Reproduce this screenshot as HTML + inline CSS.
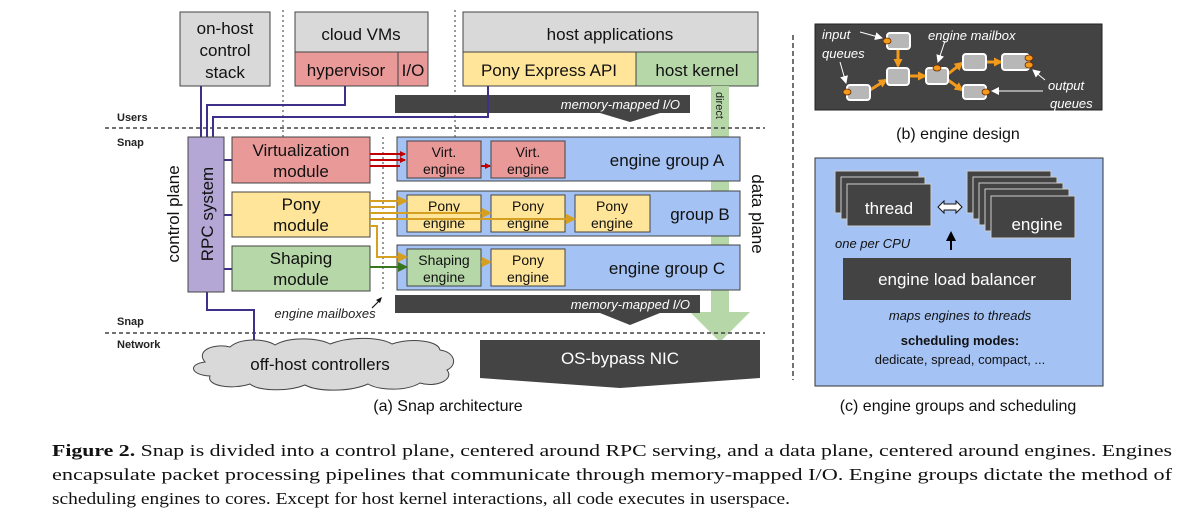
<!DOCTYPE html>
<html><head><meta charset="utf-8"><style>
html,body{margin:0;padding:0;background:#fff;}
svg{display:block;font-family:"Liberation Sans",sans-serif;}
.cap{font-family:"Liberation Serif","Times New Roman",serif;}
</style></head><body>
<svg width="1190" height="528" viewBox="0 0 1190 528" xmlns="http://www.w3.org/2000/svg">
<defs>
<marker id="ar" markerWidth="6" markerHeight="6" refX="5" refY="3" orient="auto" markerUnits="userSpaceOnUse"><path d="M0,0L6,3L0,6z" fill="#c00000"/></marker>
<marker id="ay" markerWidth="10" markerHeight="10" refX="8" refY="5" orient="auto" markerUnits="userSpaceOnUse"><path d="M0,0L10,5L0,10z" fill="#d5a021"/></marker>
<marker id="ag" markerWidth="10" markerHeight="10" refX="8" refY="5" orient="auto" markerUnits="userSpaceOnUse"><path d="M0,0L10,5L0,10z" fill="#38761d"/></marker>
<marker id="ao" markerWidth="9" markerHeight="9" refX="7" refY="4.5" orient="auto" markerUnits="userSpaceOnUse"><path d="M0,0L9,4.5L0,9z" fill="#f29a1c"/></marker>
<marker id="aw" markerWidth="8" markerHeight="8" refX="7" refY="4" orient="auto" markerUnits="userSpaceOnUse"><path d="M0,0L8,4L0,8z" fill="#fff"/></marker>
<marker id="ak" markerWidth="10" markerHeight="10" refX="8" refY="5" orient="auto" markerUnits="userSpaceOnUse"><path d="M0,0L10,5L0,10z" fill="#000"/></marker>
</defs>
<g stroke="#444" stroke-width="1">
<rect x="180" y="12" width="90" height="74" fill="#d9d9d9"/>
<rect x="295" y="12" width="133" height="40" fill="#d9d9d9"/>
<rect x="295" y="52" width="103" height="34" fill="#ea9999"/>
<rect x="398" y="52" width="30" height="34" fill="#ea9999"/>
<rect x="463" y="12" width="295" height="40" fill="#d9d9d9"/>
<rect x="463" y="52" width="173" height="34" fill="#ffe599"/>
<rect x="636" y="52" width="122" height="34" fill="#b6d7a8"/>
</g>
<g stroke="#333" stroke-dasharray="2,3" stroke-width="1">
<line x1="283" y1="10" x2="283" y2="158"/>
<line x1="455" y1="10" x2="455" y2="158"/>
<line x1="383" y1="137" x2="383" y2="292"/>
</g>
<g font-size="17" fill="#111" text-anchor="middle">
<text x="225" y="34">on-host</text><text x="225" y="56">control</text><text x="225" y="78">stack</text>
<text x="361" y="40">cloud VMs</text>
<text x="346" y="76">hypervisor</text><text x="413" y="76">I/O</text>
<text x="610" y="40">host applications</text>
<text x="549" y="76">Pony Express API</text><text x="697" y="76">host kernel</text>
</g>
<path d="M711,86H729V312H750L720,342L690,312H711Z" fill="#b6d7a8"/>
<text transform="translate(716,92) rotate(90)" font-size="11" fill="#222">direct</text>
<path d="M395,95H690V113H660L630,122L600,113H395Z" fill="#444"/>
<text x="680" y="109" font-size="13" font-style="italic" fill="#fff" text-anchor="end">memory-mapped I/O</text>
<g stroke="#444" stroke-dasharray="4,3" stroke-width="1.5">
<line x1="105" y1="128" x2="765" y2="128"/><line x1="105" y1="333" x2="765" y2="333"/>
</g>
<g font-size="11" font-weight="bold" fill="#222">
<text x="117" y="121">Users</text><text x="117" y="146">Snap</text>
<text x="117" y="325">Snap</text><text x="117" y="348">Network</text>
</g>
<g stroke="#3d2f8a" stroke-width="2" fill="none">
<path d="M201,86V137"/><path d="M345,86V105H207V137"/><path d="M488,86V117H213V137"/>
<path d="M207,292V310H254V350"/>
<path d="M224,160H232M224,215H232M224,269H232"/>
</g>
<rect x="188" y="137" width="36" height="155" fill="#b4a7d6" stroke="#444"/>
<text transform="translate(213,214) rotate(-90)" font-size="17" text-anchor="middle" fill="#111">RPC system</text>
<text transform="translate(179,214) rotate(-90)" font-size="17" text-anchor="middle" fill="#111">control plane</text>
<g stroke="#444">
<rect x="232" y="137" width="138" height="46" fill="#ea9999"/>
<rect x="232" y="192" width="138" height="45" fill="#ffe599"/>
<rect x="232" y="246" width="138" height="45" fill="#b6d7a8"/>
<rect x="397" y="137" width="343" height="44" fill="#a4c2f4"/>
<rect x="397" y="191" width="343" height="45" fill="#a4c2f4"/>
<rect x="397" y="245" width="343" height="45" fill="#a4c2f4"/>
</g>
<g font-size="17" fill="#111" text-anchor="middle">
<text x="301" y="156">Virtualization</text><text x="301" y="177">module</text>
<text x="301" y="210">Pony</text><text x="301" y="231">module</text>
<text x="301" y="264">Shaping</text><text x="301" y="285">module</text>
<text x="667" y="166">engine group A</text>
<text x="700" y="220">group B</text>
<text x="667" y="274">engine group C</text>
</g>
<text transform="translate(752,214) rotate(90)" font-size="17" text-anchor="middle" fill="#111">data plane</text>
<g stroke="#444">
<rect x="407" y="141" width="74" height="37" fill="#ea9999"/>
<rect x="491" y="141" width="74" height="37" fill="#ea9999"/>
<rect x="407" y="195" width="74" height="37" fill="#ffe599"/>
<rect x="491" y="195" width="74" height="37" fill="#ffe599"/>
<rect x="575" y="195" width="75" height="37" fill="#ffe599"/>
<rect x="407" y="249" width="74" height="37" fill="#b6d7a8"/>
<rect x="491" y="249" width="74" height="37" fill="#ffe599"/>
</g>
<g font-size="14" fill="#111" text-anchor="middle">
<text x="444" y="157">Virt.</text><text x="444" y="174">engine</text>
<text x="528" y="157">Virt.</text><text x="528" y="174">engine</text>
<text x="444" y="211">Pony</text><text x="444" y="228">engine</text>
<text x="528" y="211">Pony</text><text x="528" y="228">engine</text>
<text x="612" y="211">Pony</text><text x="612" y="228">engine</text>
<text x="444" y="265">Shaping</text><text x="444" y="282">engine</text>
<text x="528" y="265">Pony</text><text x="528" y="282">engine</text>
</g>
<g stroke="#c00000" stroke-width="2" fill="none">
<path d="M370,154H405" marker-end="url(#ar)"/><path d="M370,160H405" marker-end="url(#ar)"/><path d="M370,166H400"/>
<path d="M481,166H490" marker-end="url(#ar)"/>
</g>
<g stroke="#d5a021" stroke-width="2" fill="none">
<path d="M370,201H406" marker-end="url(#ay)"/><path d="M370,207H395"/><path d="M370,213H490"/><path d="M370,219H574" marker-end="url(#ay)"/>
<path d="M481,213H490" marker-end="url(#ay)"/>
<path d="M370,226H377V257H406" marker-end="url(#ay)"/>
<path d="M481,262H490" marker-end="url(#ay)"/>
<path d="M565,219H574" marker-end="url(#ay)"/>
</g>
<path d="M370,267H406" stroke="#38761d" stroke-width="2" marker-end="url(#ag)"/>
<path d="M395,295H700V313H660L630,325L600,313H395Z" fill="#444"/>
<text x="690" y="309" font-size="13" font-style="italic" fill="#fff" text-anchor="end">memory-mapped I/O</text>
<text x="325" y="318" font-size="13" font-style="italic" fill="#222" text-anchor="middle">engine mailboxes</text>
<path d="M372,308L380,300" stroke="#111" stroke-width="1.2"/>
<path d="M382,297L376,300L380,303z" fill="#111"/>
<path d="M205,362 C195,350 215,343 230,347 C240,338 265,338 275,345 C290,336 320,338 330,344 C350,336 380,337 392,344 C410,338 438,340 440,350 C455,352 458,365 447,370 C455,380 435,388 420,383 C405,392 378,390 368,384 C350,392 318,392 305,385 C288,392 258,391 250,384 C232,390 206,386 210,376 C190,375 188,364 205,362Z" fill="#d9d9d9" stroke="#444"/>
<text x="320" y="370" font-size="17" text-anchor="middle" fill="#111">off-host controllers</text>
<path d="M480,340H760V378L620,388L480,378Z" fill="#444"/>
<text x="620" y="364" font-size="17" text-anchor="middle" fill="#fff">OS-bypass NIC</text>
<text x="448" y="411" font-size="16" text-anchor="middle" fill="#111">(a) Snap architecture</text>
<line x1="793" y1="35" x2="793" y2="380" stroke="#444" stroke-dasharray="5,3" stroke-width="1.5"/>
<rect x="815" y="24" width="287" height="86" fill="#434343" stroke="#222"/>
<g stroke="#f29a1c" stroke-width="3" fill="none">
<path d="M898,49V66" marker-end="url(#ao)"/>
<path d="M870,90L886,80" marker-end="url(#ao)"/>
<path d="M909,76H925" marker-end="url(#ao)"/>
<path d="M948,74L962,63" marker-end="url(#ao)"/>
<path d="M948,80L962,90" marker-end="url(#ao)"/>
<path d="M986,62H1001" marker-end="url(#ao)"/>
</g>
<g fill="#b7b7b7" stroke="#fff" stroke-width="2">
<rect x="887" y="33" width="23" height="16" rx="3"/>
<rect x="887" y="68" width="22" height="17" rx="3"/>
<rect x="847" y="85" width="23" height="15" rx="3"/>
<rect x="926" y="68" width="22" height="16" rx="3"/>
<rect x="963" y="54" width="23" height="16" rx="3"/>
<rect x="1002" y="54" width="27" height="16" rx="3"/>
<rect x="963" y="85" width="23" height="14" rx="3"/>
</g>
<g fill="#f29a1c" stroke="#6b2a00" stroke-width="0.8">
<ellipse cx="887" cy="41" rx="4" ry="3"/><ellipse cx="847" cy="92" rx="4" ry="3"/>
<ellipse cx="937" cy="68" rx="4" ry="3"/><ellipse cx="1029" cy="58" rx="4" ry="3"/>
<ellipse cx="1029" cy="65" rx="4" ry="3"/><ellipse cx="986" cy="92" rx="4" ry="3"/>
</g>
<g font-size="13" font-style="italic" fill="#fff">
<text x="822" y="39">input</text><text x="822" y="58">queues</text>
<text x="928" y="40">engine mailbox</text>
<text x="1048" y="90">output</text><text x="1050" y="108">queues</text>
</g>
<g stroke="#fff" stroke-width="1" fill="none">
<path d="M860,32L882,38" marker-end="url(#aw)"/>
<path d="M840,62L846,83" marker-end="url(#aw)"/>
<path d="M945,41L938,62" marker-end="url(#aw)"/>
<path d="M1045,80L1033,70" marker-end="url(#aw)"/>
<path d="M1043,91H992" marker-end="url(#aw)"/>
</g>
<text x="958" y="139" font-size="16" text-anchor="middle" fill="#111">(b) engine design</text>
<rect x="815" y="158" width="288" height="228" fill="#a4c2f4" stroke="#333"/>
<g fill="#434343" stroke="#ccc" stroke-width="1">
<rect x="835" y="171" width="84" height="42"/>
<rect x="841" y="177" width="84" height="42"/>
<rect x="847" y="184" width="84" height="42"/>
<rect x="967" y="171" width="84" height="42"/>
<rect x="973" y="177" width="84" height="42"/>
<rect x="979" y="183" width="84" height="42"/>
<rect x="985" y="189" width="84" height="42"/>
<rect x="991" y="196" width="84" height="42"/>
</g>
<text x="889" y="214" font-size="17" fill="#fff" text-anchor="middle">thread</text>
<text x="1037" y="230" font-size="17" fill="#fff" text-anchor="middle">engine</text>
<path d="M938,207L944,201V204H956V201L962,207L956,213V210H944V213Z" fill="#fff" stroke="#111"/>
<path d="M951,250V233" stroke="#000" stroke-width="2" marker-end="url(#ak)"/>
<text x="835" y="248" font-size="13" font-style="italic" fill="#111">one per CPU</text>
<rect x="843" y="258" width="228" height="42" fill="#434343"/>
<text x="957" y="285" font-size="17" fill="#fff" text-anchor="middle">engine load balancer</text>
<text x="960" y="320" font-size="13" font-style="italic" fill="#111" text-anchor="middle">maps engines to threads</text>
<text x="960" y="345" font-size="13" font-weight="bold" fill="#111" text-anchor="middle">scheduling modes:</text>
<text x="960" y="364" font-size="13" fill="#111" text-anchor="middle">dedicate, spread, compact, ...</text>
<text x="958" y="411" font-size="16" text-anchor="middle" fill="#111">(c) engine groups and scheduling</text>
<g class="cap" font-size="17" fill="#111">
<text x="52" y="456" textLength="1120" lengthAdjust="spacingAndGlyphs"><tspan font-weight="bold">Figure 2.</tspan> Snap is divided into a control plane, centered around RPC serving, and a data plane, centered around engines. Engines</text>
<text x="52" y="480" textLength="1120" lengthAdjust="spacingAndGlyphs">encapsulate packet processing pipelines that communicate through memory-mapped I/O. Engine groups dictate the method of</text>
<text x="52" y="504" textLength="738" lengthAdjust="spacingAndGlyphs">scheduling engines to cores. Except for host kernel interactions, all code executes in userspace.</text>
</g>
</svg>
</body></html>
